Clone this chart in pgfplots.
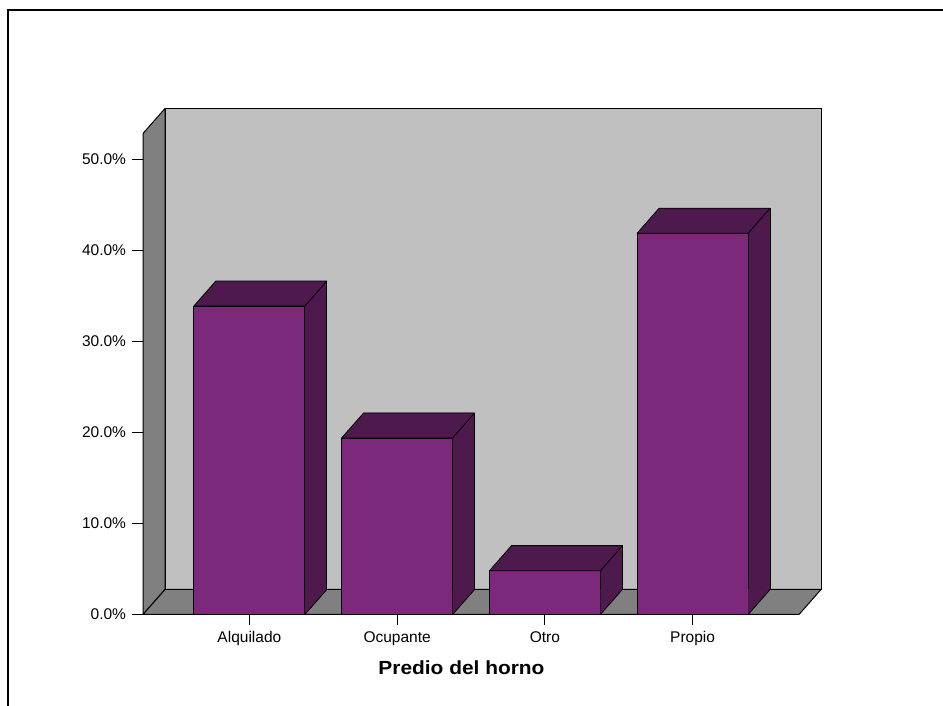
\documentclass[border=0pt]{standalone}
\usepackage{fontspec}
\setmainfont{Liberation Sans}
\usepackage{pgfplots}
\usepackage{pgfplotstable}
\pgfplotsset{compat=1.18}
\usepackage{graphicx}
\definecolor{wallback}{RGB}{192,192,192}
\definecolor{wallside}{RGB}{128,128,128}
\definecolor{barfront}{RGB}{124,41,124}
\definecolor{bardark}{RGB}{78,26,77}
% top face of a bar, drawn at the top centre of its front face
\pgfdeclareplotmark{topface}{%
  \pgfpathmoveto{\pgfqpoint{-55.5pt}{0pt}}%
  \pgfpathlineto{\pgfqpoint{55.5pt}{0pt}}%
  \pgfpathlineto{\pgfqpoint{77.5pt}{25pt}}%
  \pgfpathlineto{\pgfqpoint{-33.5pt}{25pt}}%
  \pgfpathclose
  \pgfusepathqfillstroke
}
% lower corner of the side face, drawn at the foot of each bar
\pgfdeclareplotmark{sidefix}{%
  \pgfpathmoveto{\pgfqpoint{55.5pt}{-0.3pt}}%
  \pgfpathlineto{\pgfqpoint{77.5pt}{25pt}}%
  \pgfpathlineto{\pgfqpoint{77.0pt}{25.7pt}}%
  \pgfpathlineto{\pgfqpoint{55.5pt}{25.7pt}}%
  \pgfpathclose
  \pgfusepathqfill
  \pgfpathmoveto{\pgfqpoint{55.5pt}{0pt}}%
  \pgfpathlineto{\pgfqpoint{77.5pt}{25pt}}%
  \pgfusepathqstroke
}
\pgfplotstableread{
x y
0 33.9
1 19.4
2 4.8
3 41.9
}\data
\begin{document}
\begin{tikzpicture}[x=1pt,y=1pt]
\path[use as bounding box] (0,0) rectangle (943,706);
\draw[line width=1.3pt] (8,0) -- (8,696) -- (943,696);
% walls and floor
\draw[fill=wallback, line width=1pt] (165,116.5) rectangle (821,597.5);
\draw[fill=wallside, line width=1pt, line join=round] (143,91.5) -- (165,116.5) -- (165,597.5) -- (143,572.5) -- cycle;
\draw[fill=wallside, line width=1pt, line join=round] (143,91.5) -- (799,91.5) -- (821,116.5) -- (165,116.5) -- cycle;
\begin{axis}[
  at={(143pt,91.5pt)}, anchor=south west,
  scale only axis, width=656pt, height=455pt,
  xmin=-0.72, xmax=3.72, ymin=0, ymax=50,
  clip=false,
  axis line style={draw=none},
  tick align=outside, xtick pos=left, ytick pos=left,
  major tick length=10.5pt,
  tick style={black, line width=1.1pt},
  xtick={0,1,2,3},
  xticklabels={Alquilado,Ocupante,Otro,Propio},
  ytick={0,10,20,30,40,50},
  yticklabels={0.0\%,10.0\%,20.0\%,30.0\%,40.0\%,50.0\%},
  ticklabel style={font=\fontsize{15.5}{18}\selectfont},
  yticklabel style={xshift=-3pt},
  xticklabel style={yshift=-3pt},
  xlabel={\scalebox{1.1}[1]{Predio del horno}},
  xlabel style={font=\bfseries\fontsize{19}{22}\selectfont, at={(rel axis cs:0.4855,0)}, anchor=base, yshift=-59.8pt},
]
% back/side of each bar
\addplot[ybar, bar width=111pt, bar shift=0pt, fill=bardark, draw=black, line width=0.8pt, xshift=22pt, yshift=25pt] table[x=x,y=y] {\data};
% lower corner of the side faces
\addplot[only marks, mark=sidefix, mark options={fill=bardark, draw=black, line width=0.8pt}] table[x=x, y expr=0] {\data};
% top faces
\addplot[only marks, mark=topface, mark options={fill=bardark, draw=black, line width=0.8pt, line join=round}] table[x=x,y=y] {\data};
% front faces
\addplot[ybar, bar width=111pt, bar shift=0pt, fill=barfront, draw=black, line width=0.8pt] table[x=x,y=y] {\data};
\end{axis}
\end{tikzpicture}
\end{document}
